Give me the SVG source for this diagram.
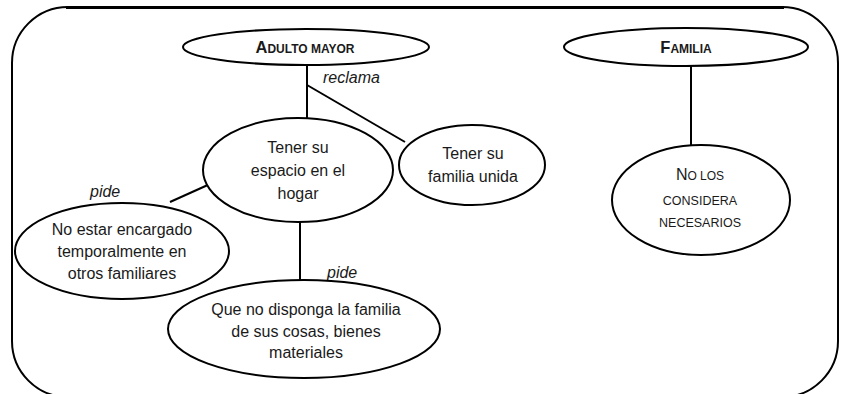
<svg xmlns="http://www.w3.org/2000/svg" width="843" height="394" viewBox="0 0 843 394">
<style>
.node{fill:#fff;stroke:#000;stroke-width:2}
.t{font-family:"Liberation Sans",Arial,sans-serif;font-size:16px;fill:#1a1a1a;text-anchor:middle}
.sc{font-family:"Liberation Sans",Arial,sans-serif;fill:#1a1a1a;text-anchor:middle}
.b{font-weight:bold}
.lbl{font-family:"Liberation Sans",Arial,sans-serif;font-size:16px;font-style:italic;fill:#1a1a1a}
.c{stroke:#000;stroke-width:2;fill:none}
</style>
<rect x="0" y="0" width="843" height="394" fill="#fff"/>
<rect x="12" y="7" width="826" height="390" rx="56" ry="56" fill="none" stroke="#000" stroke-width="2"/>
<line x1="66" y1="7.5" x2="784" y2="7.5" stroke="#000" stroke-width="3"/>
<g id="connectors">
<line class="c" x1="307" y1="65" x2="307" y2="119"/>
<line class="c" x1="307" y1="85" x2="405" y2="142"/>
<line class="c" x1="691" y1="66" x2="691" y2="146"/>
<line class="c" x1="210" y1="184" x2="170" y2="202"/>
<line class="c" x1="300" y1="222" x2="300" y2="281"/>
<text class="lbl" x="323" y="83">reclama</text>
<text class="lbl" x="90" y="197">pide</text>
<text class="lbl" x="327" y="278">pide</text>
</g>
<g id="adulto-mayor">
<ellipse class="node" cx="306" cy="47" rx="123" ry="18"/>
<text class="sc b" x="305" y="53"><tspan font-size="16.5">A</tspan><tspan font-size="12">DULTO MAYOR</tspan></text>
</g>
<g id="familia">
<ellipse class="node" cx="686" cy="47" rx="122" ry="19"/>
<text class="sc b" x="686" y="53"><tspan font-size="16.5">F</tspan><tspan font-size="12">AMILIA</tspan></text>
</g>
<g id="espacio-hogar">
<ellipse class="node" cx="298" cy="170" rx="95" ry="52"/>
<text class="t" x="298" y="153">Tener su</text>
<text class="t" x="298" y="176">espacio en el</text>
<text class="t" x="298" y="199">hogar</text>
</g>
<g id="familia-unida">
<ellipse class="node" cx="472" cy="165" rx="73" ry="40"/>
<text class="t" x="473" y="159">Tener su</text>
<text class="t" x="473" y="182">familia unida</text>
</g>
<g id="no-necesarios">
<ellipse class="node" cx="701" cy="200" rx="89" ry="55"/>
<text class="sc" x="700" y="180"><tspan font-size="16">N</tspan><tspan font-size="12">O LOS</tspan></text>
<text class="sc" x="700" y="205" font-size="12.5">CONSIDERA</text>
<text class="sc" x="700" y="227" font-size="12.5">NECESARIOS</text>
</g>
<g id="no-encargado">
<ellipse class="node" cx="122" cy="251" rx="107" ry="48"/>
<text class="t" x="122" y="235">No estar encargado</text>
<text class="t" x="122" y="257">temporalmente en</text>
<text class="t" x="122" y="279">otros familiares</text>
</g>
<g id="no-disponga">
<ellipse class="node" cx="304" cy="329" rx="136" ry="49"/>
<text class="t" x="306" y="315">Que no disponga la familia</text>
<text class="t" x="306" y="337">de sus cosas, bienes</text>
<text class="t" x="306" y="358">materiales</text>
</g>
</svg>
